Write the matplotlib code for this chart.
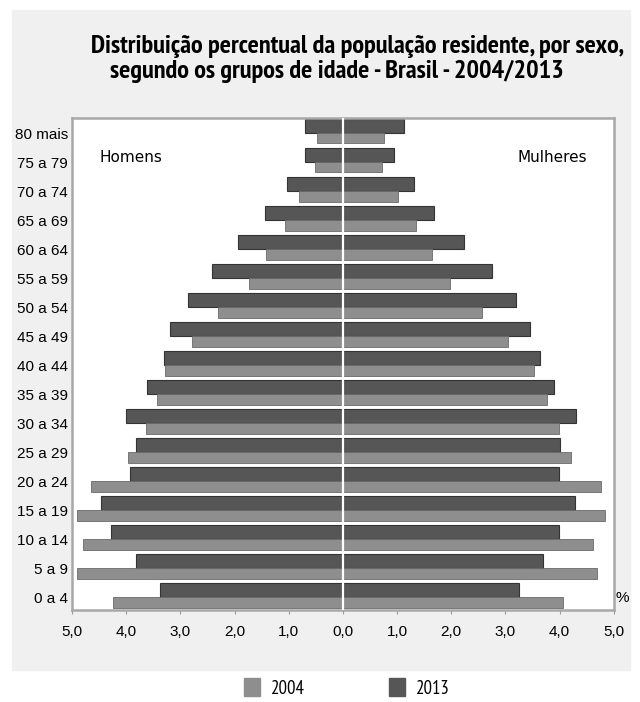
"""Pirâmide etária - Brasil 2004/2013"""

import matplotlib.pyplot as plt
import numpy as np
from matplotlib.patches import Patch, Rectangle

ages = ["0 a 4", "5 a 9", "10 a 14", "15 a 19", "20 a 24", "25 a 29", "30 a 34",
        "35 a 39", "40 a 44", "45 a 49", "50 a 54", "55 a 59", "60 a 64",
        "65 a 69", "70 a 74", "75 a 79", "80 mais"]
men_2004 = [4.24, 4.91, 4.80, 4.91, 4.65, 3.96, 3.63, 3.44, 3.28, 2.78, 2.30,
            1.74, 1.41, 1.07, 0.81, 0.52, 0.48]
men_2013 = [3.37, 3.81, 4.28, 4.46, 3.93, 3.81, 4.00, 3.61, 3.30, 3.19, 2.85,
            2.41, 1.93, 1.44, 1.04, 0.70, 0.70]
women_2004 = [4.06, 4.69, 4.62, 4.83, 4.77, 4.21, 3.98, 3.77, 3.52, 3.04, 2.56,
              1.97, 1.64, 1.35, 1.02, 0.72, 0.76]
women_2013 = [3.25, 3.69, 3.98, 4.28, 3.98, 4.01, 4.31, 3.90, 3.63, 3.46, 3.20,
              2.75, 2.23, 1.68, 1.31, 0.94, 1.13]
xticks = [-5, -4, -3, -2, -1, 0, 1, 2, 3, 4, 5]

narrow = ["PT Sans Narrow", "Liberation Sans", "DejaVu Sans"]
plain = ["Liberation Sans", "DejaVu Sans"]
c04 = "#8e8e8e"
c13 = "#565656"

fig = plt.figure(figsize=(6.4, 7.02), dpi=100, facecolor="white")
# grey panel behind title and chart
fig.patches.append(Rectangle((12 / 640, 1 - 670 / 702), 618 / 640, 660 / 702,
                             transform=fig.transFigure, color="#f0f0f0", zorder=-1))
ax = fig.add_axes([0.1125, 0.131, 0.8465, 0.701])
ax.set_facecolor("white")

y = np.arange(len(ages))
ax.barh(y, -np.array(men_2013), height=0.48, align="edge", color=c13,
        edgecolor="#333333", linewidth=0.8)
ax.barh(y, -np.array(men_2004), height=-0.36, align="edge", color=c04,
        edgecolor="#6a6a6a", linewidth=0.6)
ax.barh(y, women_2013, height=0.48, align="edge", color=c13,
        edgecolor="#333333", linewidth=0.8)
ax.barh(y, women_2004, height=-0.36, align="edge", color=c04,
        edgecolor="#6a6a6a", linewidth=0.6)
ax.axvline(0, color="white", lw=1.6, zorder=3)

ax.set_xlim(-5, 5)
ax.set_ylim(-0.44, 16.52)
ax.set_xticks(xticks)
ax.set_xticklabels([f"{abs(v):.1f}".replace(".", ",") for v in xticks],
                   family=plain, fontsize=11)
ax.set_yticks(y)
ax.set_yticklabels(ages, family=plain, fontsize=11)
ax.tick_params(axis="y", length=0, pad=3)
ax.tick_params(axis="x", length=3, color="#999999", pad=8)
for s in ax.spines.values():
    s.set_color("#a8a8a8")
    s.set_linewidth(1.8)

ax.text(0.05, 0.919, "Homens", transform=ax.transAxes, family="DejaVu Sans",
        fontsize=11, va="center")
ax.text(0.95, 0.919, "Mulheres", transform=ax.transAxes, family="DejaVu Sans",
        fontsize=11, ha="right", va="center")
fig.text(0.972, 0.143, "%", family=plain, fontsize=11, ha="center")

fig.text(0.559, 0.925, "Distribuição percentual da população residente, por sexo,",
         family=narrow, fontsize=19, weight="bold", ha="center")
fig.text(0.527, 0.889, "segundo os grupos de idade - Brasil - 2004/2013",
         family=narrow, fontsize=19, weight="bold", ha="center")

fig.legend(handles=[Patch(color=c04, label="2004"), Patch(color=c13, label="2013")],
           loc="center", bbox_to_anchor=(0.542, 0.02), ncol=2, frameon=False,
           prop={"family": narrow, "size": 13.5}, handlelength=0.85,
           handleheight=1.1, handletextpad=0.6, columnspacing=4.5)

fig.savefig("out.png", dpi=100, facecolor=fig.get_facecolor())
